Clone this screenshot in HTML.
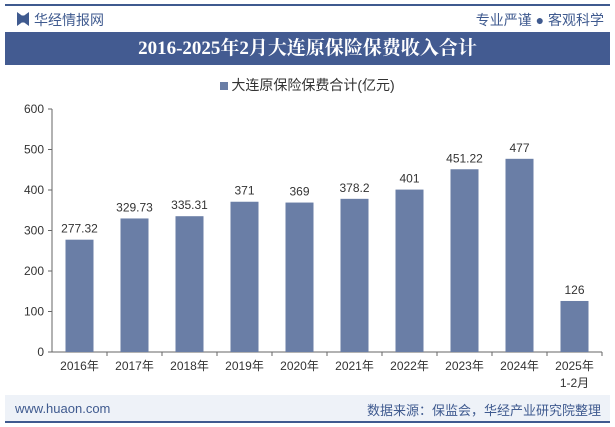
<!DOCTYPE html>
<html><head><meta charset="utf-8"><style>
body{margin:0;width:615px;height:427px;background:#fff;font-family:"Liberation Sans","Noto Sans CJK SC",sans-serif;position:relative;overflow:hidden}
.abs{position:absolute}
</style></head><body>
<div class="abs" style="left:5px;top:4px;width:605px;height:2px;background:#3f5a8f"></div>
<div class="abs" style="left:17px;top:12px;width:12px;height:14px;background:#3f5a8f;clip-path:polygon(0 0,40% 25%,60% 25%,100% 0,100% 100%,60% 75%,40% 75%,0 100%)"></div>
<div class="abs" style="left:34px;top:10px;font-size:14px;color:#3f5a8f">华经情报网</div>
<div class="abs" style="right:11px;top:10px;font-size:14px;color:#3f5a8f">专业严谨 ● 客观科学</div>
<div class="abs" style="left:5px;top:32px;width:605px;height:33px;background:#435b91;color:#fff;font-family:'Liberation Serif','Noto Serif CJK SC',serif;font-weight:bold;font-size:19px;text-align:center;line-height:33px">2016-2025年2月大连原保险保费收入合计</div>
<div class="abs" style="left:0;width:615px;top:75px;text-align:center;font-size:14px;color:#333"><span style="display:inline-block;width:8px;height:8px;background:#6a7ea6;margin-right:3px"></span>大连原保险保费合计(亿元)</div>
<svg class="abs" style="left:0;top:0" width="615" height="427" id="chart"></svg>
<div class="abs" style="left:5px;top:395px;width:605px;height:26px;background:#eef2f8"></div>
<div class="abs" style="left:15px;top:401px;font-size:13px;color:#3f5a8f">www.huaon.com</div>
<div class="abs" style="right:14px;top:400px;font-size:13px;color:#3f5a8f">数据来源：保监会，华经产业研究院整理</div>
<div class="abs" style="left:5px;top:421px;width:605px;height:2px;background:#3f5a8f"></div>
<script>
const categories=["2016年","2017年","2018年","2019年","2020年","2021年","2022年","2023年","2024年","2025年"];
const values=[277.32,329.73,335.31,371,369,378.2,401,451.22,477,126];
const labels=["277.32","329.73","335.31","371","369","378.2","401","451.22","477","126"];
const yTicks=[0,100,200,300,400,500,600];
const svg=document.getElementById('chart');
const NS="http://www.w3.org/2000/svg";
const x0=52,x1=602,y0=352,yTop=109;
const y=v=>y0-(v/600)*(y0-yTop);
const bw=(x1-x0)/categories.length;
function mk(t,a,txt){const e=document.createElementNS(NS,t);for(const k in a)e.setAttribute(k,a[k]);if(txt!=null)e.textContent=txt;svg.appendChild(e);return e;}
yTicks.forEach(t=>{
 const l=mk('line',{x1:x0-4,x2:x0,y1:y(t),y2:y(t),stroke:'#666'});
 
 
 const tx=mk('text',{x:x0-8,y:y(t)+4,'text-anchor':'end','font-size':12,fill:'#333','font-family':'Liberation Sans'},t);
 
 
});
const ax=mk('line',{x1:x0,x2:x0,y1:yTop,y2:y0,stroke:'#666'});


const xa=mk('line',{x1:x0,x2:x1,y1:y0,y2:y0,stroke:'#666'});


categories.forEach((c,i)=>{
 const cx=x0+bw*(i+0.5);
 const tk=mk('line',{x1:x0+bw*(i+1),x2:x0+bw*(i+1),y1:y0,y2:y0+4,stroke:'#666'});
 
 
 const r=mk('rect',{x:cx-14,y:y(values[i]),width:28,height:y0-y(values[i]),fill:'#6a7ea6'});
 
 
 const v=mk('text',{x:cx,y:y(values[i])-7,'text-anchor':'middle','font-size':12,fill:'#333','font-family':'Liberation Sans'},labels[i]);
 
 
 const xl=mk('text',{x:cx,y:y0+18,'text-anchor':'middle','font-size':12,fill:'#333','font-family':'Liberation Sans, Noto Sans CJK SC, sans-serif'},c);
 
 
});
const sub=mk('text',{x:x0+bw*9.5,y:y0+35,'text-anchor':'middle','font-size':12,fill:'#333','font-family':'Liberation Sans, Noto Sans CJK SC, sans-serif'},'1-2月');


</script>
</body></html>
